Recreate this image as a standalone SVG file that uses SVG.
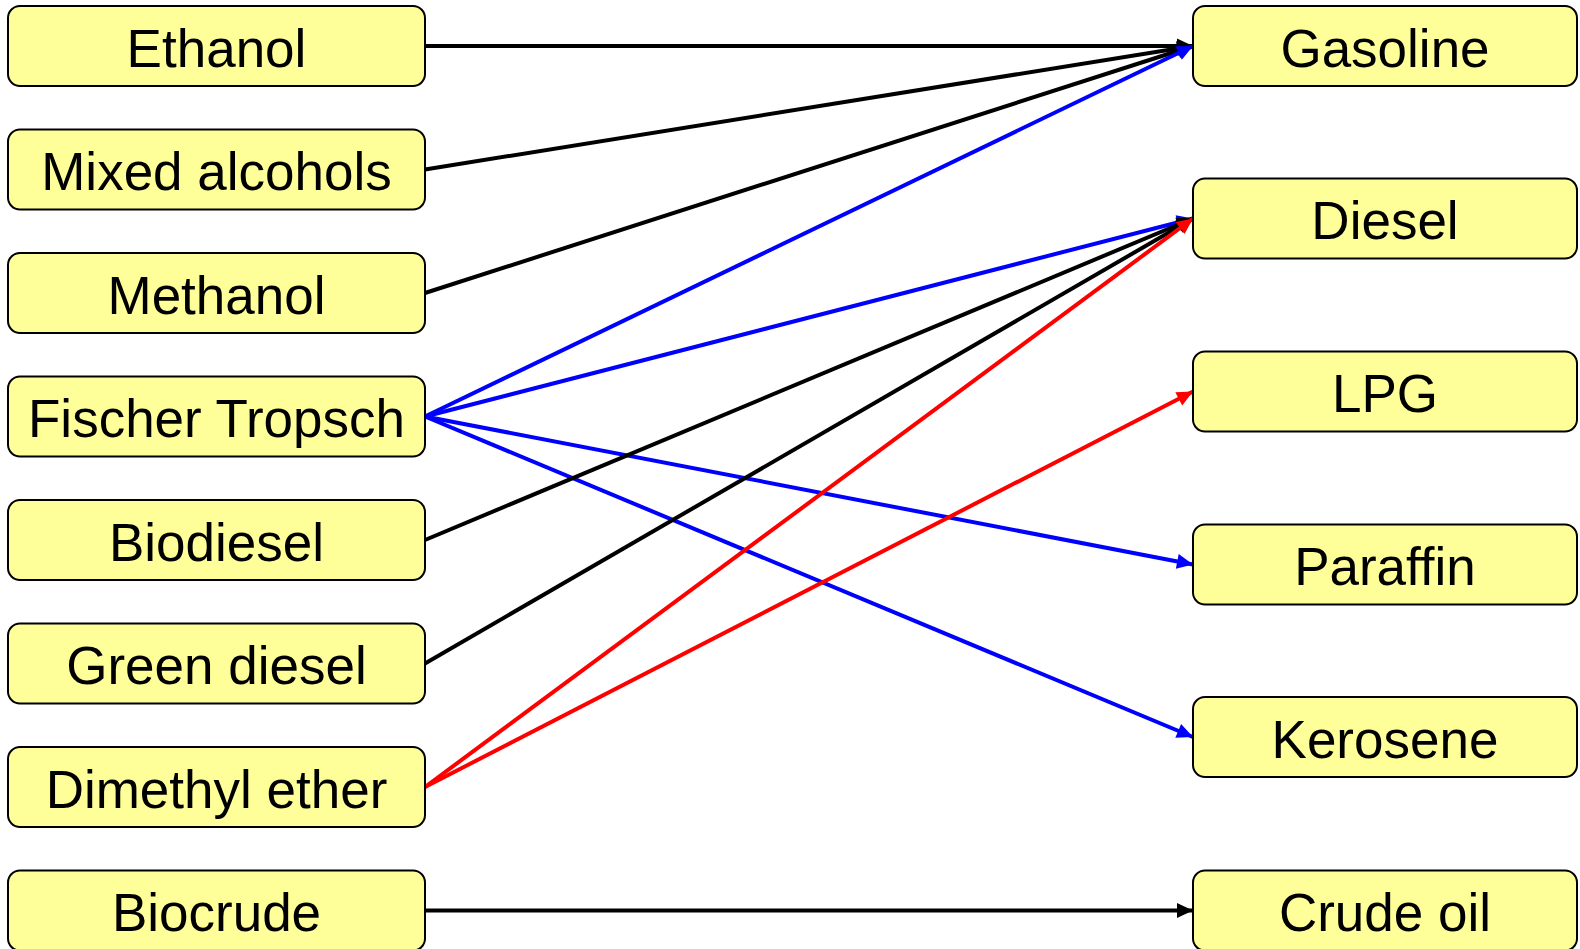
<svg xmlns="http://www.w3.org/2000/svg" width="1580" height="949" viewBox="0 0 1580 949">
<style>
.box{fill:#ffff99;stroke:#000;stroke-width:2}
.lbl{font-family:"Liberation Sans",Arial,sans-serif;font-size:53px;fill:#000;text-anchor:middle}
.e{fill:none;stroke-width:4}
.k{stroke:#000;marker-end:url(#ak)}
.b{stroke:#0000ff;marker-end:url(#ab)}
.r{stroke:#ff0000;marker-end:url(#ar)}
</style>
<defs>
<marker id="ak" markerUnits="userSpaceOnUse" markerWidth="18" markerHeight="16" refX="16" refY="7.5" orient="auto" overflow="visible"><path d="M0,0 L16,7.5 L0,15 z" fill="#000"/></marker>
<marker id="ab" markerUnits="userSpaceOnUse" markerWidth="18" markerHeight="16" refX="16" refY="7.5" orient="auto" overflow="visible"><path d="M0,0 L16,7.5 L0,15 z" fill="#0000ff"/></marker>
<marker id="ar" markerUnits="userSpaceOnUse" markerWidth="18" markerHeight="16" refX="16" refY="7.5" orient="auto" overflow="visible"><path d="M0,0 L16,7.5 L0,15 z" fill="#ff0000"/></marker>
</defs>
<rect width="1580" height="949" fill="#fff"/>
<g id="connectors">
<line class="e k" x1="425" y1="46" x2="1193" y2="46"/>
<line class="e k" x1="425" y1="169.5" x2="1193" y2="46"/>
<line class="e k" x1="425" y1="293" x2="1193" y2="46"/>
<line class="e b" x1="425" y1="416.5" x2="1193" y2="46"/>
<line class="e b" x1="425" y1="416.5" x2="1193" y2="218.5"/>
<line class="e b" x1="425" y1="416.5" x2="1193" y2="564.5"/>
<line class="e b" x1="425" y1="416.5" x2="1193" y2="737"/>
<line class="e k" x1="425" y1="540" x2="1193" y2="218.5"/>
<line class="e k" x1="425" y1="663.5" x2="1193" y2="218.5"/>
<line class="e r" x1="425" y1="787" x2="1193" y2="218.5"/>
<line class="e r" x1="425" y1="787" x2="1193" y2="391.5"/>
<line class="e k" x1="425" y1="910.5" x2="1193" y2="910.5"/>
</g>
<g id="n-ethanol"><rect class="box" x="8" y="6" width="417" height="80" rx="12"/><text class="lbl" x="216.5" y="66.5">Ethanol</text></g>
<g id="n-mixed"><rect class="box" x="8" y="129.5" width="417" height="80" rx="12"/><text class="lbl" x="216.5" y="190">Mixed alcohols</text></g>
<g id="n-methanol"><rect class="box" x="8" y="253" width="417" height="80" rx="12"/><text class="lbl" x="216.5" y="313.5">Methanol</text></g>
<g id="n-ft"><rect class="box" x="8" y="376.5" width="417" height="80" rx="12"/><text class="lbl" x="216.5" y="437">Fischer Tropsch</text></g>
<g id="n-biodiesel"><rect class="box" x="8" y="500" width="417" height="80" rx="12"/><text class="lbl" x="216.5" y="560.5">Biodiesel</text></g>
<g id="n-green"><rect class="box" x="8" y="623.5" width="417" height="80" rx="12"/><text class="lbl" x="216.5" y="684">Green diesel</text></g>
<g id="n-dme"><rect class="box" x="8" y="747" width="417" height="80" rx="12"/><text class="lbl" x="216.5" y="807.5">Dimethyl ether</text></g>
<g id="n-biocrude"><rect class="box" x="8" y="870.5" width="417" height="80" rx="12"/><text class="lbl" x="216.5" y="931">Biocrude</text></g>
<g id="n-gasoline"><rect class="box" x="1193" y="6" width="384" height="80" rx="12"/><text class="lbl" x="1385" y="66.5">Gasoline</text></g>
<g id="n-diesel"><rect class="box" x="1193" y="178.5" width="384" height="80" rx="12"/><text class="lbl" x="1385" y="239">Diesel</text></g>
<g id="n-lpg"><rect class="box" x="1193" y="351.5" width="384" height="80" rx="12"/><text class="lbl" x="1385" y="412">LPG</text></g>
<g id="n-paraffin"><rect class="box" x="1193" y="524.5" width="384" height="80" rx="12"/><text class="lbl" x="1385" y="585">Paraffin</text></g>
<g id="n-kerosene"><rect class="box" x="1193" y="697" width="384" height="80" rx="12"/><text class="lbl" x="1385" y="757.5">Kerosene</text></g>
<g id="n-crude"><rect class="box" x="1193" y="870.5" width="384" height="80" rx="12"/><text class="lbl" x="1385" y="931">Crude oil</text></g>
</svg>
